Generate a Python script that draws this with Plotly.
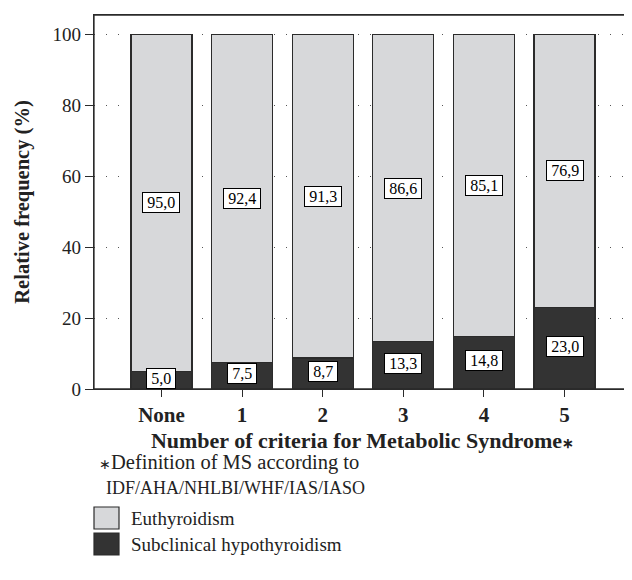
import plotly.graph_objects as go

categories = ["None", "1", "2", "3", "4", "5"]
subclinical = [5.0, 7.5, 8.7, 13.3, 14.8, 23.0]
euthyroid = [95.0, 92.4, 91.3, 86.6, 85.1, 76.9]
y_ticks = [0, 20, 40, 60, 80, 100]
legend_names = ["Euthyroidism", "Subclinical hypothyroidism"]

FONT = "Liberation Serif"
DARK = "#333333"
LIGHT = "#d7d8da"
LINE = "#2b2b2b"
TXT = "#222222"
AST = '<span style="font-size:14px">∗</span>'
THIN = "\u2009"

# page body has an 8px margin: the figure is drawn at an (8, 8) offset
W, H = 624, 564
L, T = 86, 7
PLOT_W, PLOT_H = 537, 374
R = W - L - PLOT_W
B = H - T - PLOT_H

def px(xr):  # reference-page x pixel -> paper x
    return (xr - 8 - L) / PLOT_W

def py(yr):  # reference-page y pixel -> paper y
    return (T + PLOT_H - (yr - 8)) / PLOT_H

fig = go.Figure()
fig.add_trace(go.Bar(
    x=list(range(len(categories))), y=subclinical, name=legend_names[1],
    marker=dict(color=DARK, line=dict(color=LINE, width=1.3)), width=0.757,
))
fig.add_trace(go.Bar(
    x=list(range(len(categories))), y=euthyroid, name=legend_names[0],
    marker=dict(color=LIGHT, line=dict(color=LINE, width=1.3)), width=0.757,
))

def fmt(v):
    return THIN + f"{v:.1f}".replace(".", ",") + THIN

for i, (s, e) in enumerate(zip(subclinical, euthyroid)):
    fig.add_annotation(x=i, y=s / 2 + 0.5, text=fmt(s), showarrow=False,
                       font=dict(family=FONT, size=16, color="black"),
                       bgcolor="white", bordercolor="black", borderwidth=1, borderpad=1)
    fig.add_annotation(x=i, y=s + e / 2, text=fmt(e), showarrow=False,
                       font=dict(family=FONT, size=16, color="black"),
                       bgcolor="white", bordercolor="black", borderwidth=1, borderpad=1)

# footnote
fig.add_annotation(xref="paper", yref="paper", x=px(97), y=py(462),
                   xanchor="left", yanchor="middle", showarrow=False,
                   text=AST + "Definition of MS according to",
                   font=dict(family=FONT, size=20.5, color=TXT))
fig.add_annotation(xref="paper", yref="paper", x=px(104), y=py(488),
                   xanchor="left", yanchor="middle", showarrow=False,
                   text="IDF/AHA/NHLBI/WHF/IAS/IASO",
                   font=dict(family=FONT, size=18, color=TXT))

# legend (drawn as swatches + labels below the chart)
for name, color, yc in zip(legend_names, [LIGHT, DARK], [518, 544]):
    fig.add_shape(type="rect", xref="paper", yref="paper",
                  x0=px(94), x1=px(119), y0=py(yc + 11), y1=py(yc - 11),
                  line=dict(color=LINE, width=1.2), fillcolor=color)
    fig.add_annotation(xref="paper", yref="paper", x=px(129), y=py(yc),
                       xanchor="left", yanchor="middle", showarrow=False, text=name,
                       font=dict(family=FONT, size=19, color=TXT))

# plot frame
fig.add_shape(type="rect", xref="paper", yref="paper", x0=0, x1=1, y0=0, y1=1,
              line=dict(color=LINE, width=1.3), fillcolor="rgba(0,0,0,0)", layer="above")

fig.update_layout(
    barmode="stack",
    width=W, height=H,
    margin=dict(l=L, r=R, t=T, b=B, autoexpand=False),
    paper_bgcolor="white", plot_bgcolor="white",
    font=dict(family=FONT, size=18, color=TXT),
    showlegend=False,
)
fig.update_xaxes(
    range=[-0.837, 5.825], tickmode="array", tickvals=list(range(len(categories))),
    ticktext=[f"<b>{c}</b>" for c in categories],
    showline=True, linecolor=LINE, linewidth=1.3, mirror=True,
    ticks="outside", ticklen=7, tickcolor=LINE, showgrid=False,
    title=dict(text="<b>Number of criteria for Metabolic Syndrome" + AST + "</b>", standoff=6,
               font=dict(family=FONT, size=22, color=TXT)),
    tickfont=dict(family=FONT, size=21, color=TXT),
    automargin=False,
)
fig.update_yaxes(
    range=[0, 105.4], tickmode="array", tickvals=y_ticks,
    showline=True, linecolor=LINE, linewidth=1.3, mirror=True,
    ticks="outside", ticklen=8, tickcolor=LINE,
    showgrid=True, gridcolor="#555", gridwidth=1, griddash="1px,11px",
    zeroline=False,
    title=dict(text="<b>Relative frequency (%)</b>", standoff=17,
               font=dict(family=FONT, size=20.5, color=TXT)),
    tickfont=dict(family=FONT, size=19, color=TXT),
    automargin=False,
)

fig.write_html("out.html")
